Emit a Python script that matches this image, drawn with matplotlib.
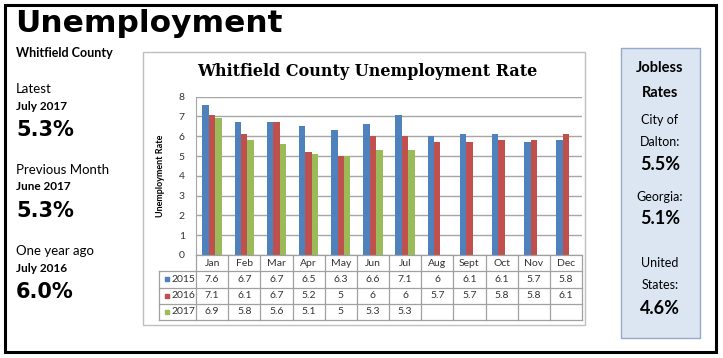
import matplotlib.pyplot as plt
import numpy as np
from matplotlib.patches import Rectangle

months = ["Jan", "Feb", "Mar", "Apr", "May", "Jun", "Jul", "Aug", "Sept", "Oct", "Nov", "Dec"]
years = ["2015", "2016", "2017"]
rate_2015 = [7.6, 6.7, 6.7, 6.5, 6.3, 6.6, 7.1, 6, 6.1, 6.1, 5.7, 5.8]
rate_2016 = [7.1, 6.1, 6.7, 5.2, 5, 6, 6, 5.7, 5.7, 5.8, 5.8, 6.1]
rate_2017 = [6.9, 5.8, 5.6, 5.1, 5, 5.3, 5.3]
colors = ["#4F81BD", "#C0504D", "#9BBB59"]

W, H = 723, 358
fig = plt.figure(figsize=(W / 100, H / 100), dpi=100)
sans = ["Lato", "DejaVu Sans"]


def px(x, y):
    return x / W, 1 - y / H


def ftext(x, y, s, **kw):
    fx, fy = px(x, y)
    kw.setdefault("family", sans)
    fig.text(fx, fy, s, va="center", **kw)


# outer border
fig.patches.append(Rectangle(px(5, 352), 711 / W, 347 / H, transform=fig.transFigure,
                             fill=False, edgecolor="black", linewidth=2.2))

# left column
ftext(15, 23, "Unemployment", fontsize=22.5, weight="heavy", family=["DejaVu Sans"])
ftext(16, 53, "Whitfield County", fontsize=9, weight="bold")
left_blocks = [("Latest", "July 2017", "5.3%", 89),
               ("Previous Month", "June 2017", "5.3%", 170),
               ("One year ago", "July 2016", "6.0%", 251)]
for label, when, val, y in left_blocks:
    ftext(16, y, label, fontsize=9.5)
    ftext(16, y + 17, when, fontsize=8.5, weight="bold")
    ftext(16, y + 41, val, fontsize=15, weight="bold", family=["DejaVu Sans"])

# right box
fig.patches.append(Rectangle(px(621, 338), 79 / W, 290 / H, transform=fig.transFigure,
                             facecolor="#DCE6F2", edgecolor="#95A9C9", linewidth=1))
right_lines = [("Jobless", 68, 10.5, "bold"), ("Rates", 93, 10.5, "bold"),
               ("City of", 120, 9, "normal"), ("Dalton:", 142, 9, "normal"),
               ("5.5%", 165, 13, "bold"),
               ("Georgia:", 197, 9, "normal"), ("5.1%", 218, 13, "bold"),
               ("United", 263, 9, "normal"), ("States:", 285, 9, "normal"),
               ("4.6%", 308, 13, "bold")]
for s, y, fs, wt in right_lines:
    ftext(660, y, s, fontsize=fs, weight=wt, ha="center")

# chart frame
fig.patches.append(Rectangle(px(143, 325), 442 / W, 273 / H, transform=fig.transFigure,
                             fill=False, edgecolor="#BFBFBF", linewidth=1))
ftext(367, 72, "Whitfield County Unemployment Rate", fontsize=11.5, weight="bold",
      ha="center", family=["DejaVu Serif"])

# plot area
x0, x1, ytop, ybot = 196, 582, 96.7, 255
ax = fig.add_axes([x0 / W, 1 - ybot / H, (x1 - x0) / W, (ybot - ytop) / H])
x = np.arange(len(months))
bw = 0.2
for i, (vals, c) in enumerate(zip([rate_2015, rate_2016, rate_2017], colors)):
    ax.bar(x[:len(vals)] + (i - 1) * bw, vals, width=bw, color=c, zorder=3)
ax.set_xlim(-0.5, 11.5)
ax.set_ylim(0, 8)
ax.set_yticks(range(9))
ax.set_xticks([])
ax.grid(axis="y", color="#A6A6A6", linewidth=1, zorder=0)
for s in ["top", "right", "bottom"]:
    ax.spines[s].set_visible(False)
ax.spines["left"].set_color("#A6A6A6")
ax.tick_params(axis="y", length=0, labelsize=7.5, pad=8, labelcolor="#333333")
for t in ax.get_yticklabels():
    t.set_family(sans)
ax.set_ylabel("Unemployment Rate", fontsize=6.5, weight="bold", family=sans, labelpad=10)

# data table
lx = 159
tab = fig.add_axes([lx / W, 1 - 320 / H, (x1 - lx) / W, (320 - ybot) / H])
left = -0.5 - (x0 - lx) / ((x1 - x0) / 12)
tab.set_xlim(left, 11.5)
tab.set_ylim(4, 0)
tab.axis("off")
lc = "#A0A0A0"
for r in range(5):
    xs = -0.5 if r == 0 else left
    tab.plot([xs, 11.5], [r, r], color=lc, lw=0.9, clip_on=False)
for c in range(13):
    tab.plot([c - 0.5, c - 0.5], [0, 4], color=lc, lw=0.9, clip_on=False)
tab.plot([left, left], [1, 4], color=lc, lw=0.9, clip_on=False)
for j, m in enumerate(months):
    tab.text(j, 0.5, m, ha="center", va="center", fontsize=7.5, family=sans, color="#333333")
for i, (yr, vals, c) in enumerate(zip(years, [rate_2015, rate_2016, rate_2017], colors)):
    tab.scatter([left + 0.25], [i + 1.5], marker="s", s=9, color=c, clip_on=False)
    tab.text(left + 0.38, i + 1.5, yr, ha="left", va="center", fontsize=7.5, family=sans, color="#333333")
    for j, v in enumerate(vals):
        tab.text(j, i + 1.5, f"{v:g}", ha="center", va="center", fontsize=7.5, family=sans, color="#333333")

fig.savefig("out.png", dpi=100)
